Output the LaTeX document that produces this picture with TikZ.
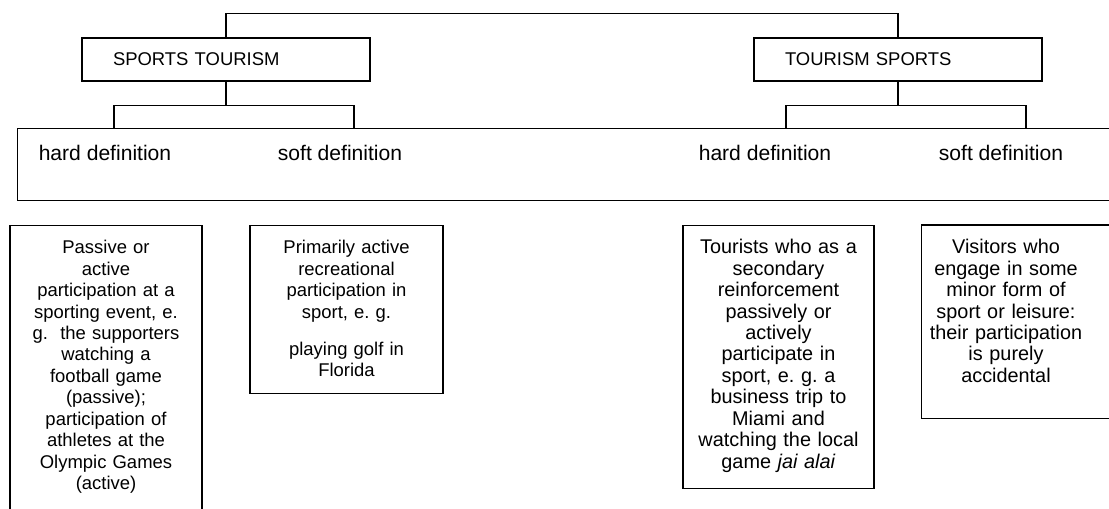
\documentclass[tikz,border=0pt]{standalone}
\usepackage{fontspec}
\setmainfont{Liberation Sans}
\usetikzlibrary{positioning, calc}

\begin{document}
\frenchspacing
\begin{tikzpicture}[
    x=0.02cm, y=-0.02cm,
    line width=0.8pt,
    headbox/.style={rectangle, draw, minimum width=5.76cm, minimum height=0.86cm, text width=4.52cm, inner xsep=0.62cm, inner ysep=0pt, align=left, font=\fontsize{10.5}{12.6}\selectfont},
    defbox/.style={rectangle, draw, anchor=north, inner xsep=0.1cm, inner ysep=0.26cm, text height=0.3cm, align=center, font=\fontsize{10.5}{12.2}\selectfont},
    bigtext/.style={font=\fontsize{11.3}{12.2}\selectfont},
    deflabel/.style={anchor=base, font=\fontsize{12}{14}\selectfont},
    link/.style={draw, line width=0.8pt}
]
\useasboundingbox (0,0) rectangle (1109,508);
\clip (0,0) rectangle (1109,508);

% Top level boxes
\node[headbox] (sptour) at (226,59.5) {SPORTS TOURISM};
\node[headbox] (tourspo) at (898,59.5) {TOURISM SPORTS};

% Row of definitions
\node[draw, anchor=north west, minimum width=22.6cm, minimum height=1.44cm, inner sep=0pt] (defrow) at (17,128) {};
\node[deflabel] (sphard) at (105,160) {hard definition};
\node[deflabel] (spsoft) at (340,160) {soft definition};
\node[deflabel] (tshard) at (765,160) {hard definition};
\node[deflabel] (tssoft) at (1001,160) {soft definition};

% Feet of the brackets
\coordinate (spL) at (114,128);
\coordinate (spR) at (354,128);
\coordinate (tsL) at (786,128);
\coordinate (tsR) at (1026,128);

% Description boxes
\node[defbox, text width=3.64cm, text depth=6cm] (sphardtxt) at (106,225)
    {Passive or\\ active\\ participation at a\\ sporting event, e.\\ g.\ \ the supporters\\ watching a\\ football game\\ (passive);\\ participation of\\ athletes at the\\ Olympic Games\\ (active)};
\node[defbox, text width=3.66cm, text depth=2.54cm] (spsofttxt) at (346.5,225)
    {Primarily active\\ recreational\\ participation in\\ sport, e. g.\\[9pt] playing golf in\\ Florida};
\node[defbox, bigtext, text width=3.62cm, text depth=4.44cm] (tshardtxt) at (778.5,225)
    {Tourists who as a\\ secondary\\ reinforcement\\ passively or\\ actively\\ participate in\\ sport, e. g. a\\ business trip to\\ Miami and\\ watching the local\\ game \textit{jai alai}};
\node[defbox, bigtext, draw=none, inner xsep=0pt, text width=3.36cm, text depth=3.02cm] (tssofttxt) at (1006,225)
    {Visitors who\\ engage in some\\ minor form of\\ sport or leisure:\\ their participation\\ is purely\\ accidental};
\draw[link] ($(tssofttxt.north east)+(40,0)$) -- (tssofttxt.north west) -- (tssofttxt.south west) -- ($(tssofttxt.south east)+(40,0)$);

% Connectors
\draw[link] (sptour.north) -- ++(0,-24) -| (tourspo.north);
\draw[link] (sptour.south) -- ++(0,24) coordinate (spfork);
\draw[link] (spL) |- (spfork) -| (spR);
\draw[link] (tourspo.south) -- ++(0,24) coordinate (tsfork);
\draw[link] (tsL) |- (tsfork) -| (tsR);

\end{tikzpicture}
\end{document}
